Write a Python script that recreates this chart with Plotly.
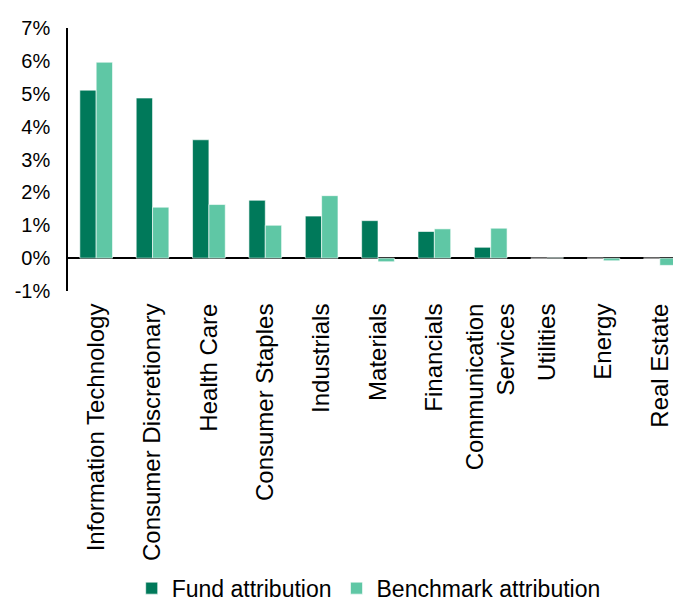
import plotly.graph_objects as go

categories = ["Information Technology", "Consumer Discretionary", "Health Care",
              "Consumer Staples", "Industrials", "Materials", "Financials",
              "Communication<br>Services", "Utilities", "Energy", "Real Estate"]
fund = [5.11, 4.87, 3.60, 1.76, 1.28, 1.14, 0.81, 0.33, 0.0, 0.0, 0.0]
benchmark = [5.96, 1.55, 1.63, 1.00, 1.90, -0.11, 0.89, 0.91, 0.01, -0.08, -0.22]
y_ticks = [-1, 0, 1, 2, 3, 4, 5, 6, 7]
y_tick_labels = [f"{v}%" for v in y_ticks]

fig = go.Figure()
fig.add_bar(x=categories, y=fund, name="Fund attribution",
            marker=dict(color="#00795A", line=dict(color="rgba(255,255,255,0.6)", width=1)))
fig.add_bar(x=categories, y=benchmark, name="Benchmark attribution",
            marker=dict(color="#5FC7A5", line=dict(color="rgba(255,255,255,0.6)", width=1)))

fig.update_layout(
    width=681, height=601,
    margin=dict(l=60, r=1, t=20, b=318, autoexpand=False),
    paper_bgcolor="white", plot_bgcolor="white",
    font=dict(family="Liberation Sans, Arial", size=20, color="#000000"),
    barmode="group", bargap=0.42, bargroupgap=0,
    showlegend=True,
    legend=dict(orientation="h", x=0.485, xanchor="center", y=-1.13, yanchor="middle",
                font=dict(size=23), itemwidth=30, traceorder="normal"),
)
fig.update_xaxes(tickangle=-90, showgrid=False, showline=False, automargin=False,
                 ticks="outside", ticklen=2, tickcolor="rgba(0,0,0,0)",
                 tickfont=dict(size=24))
fig.update_yaxes(range=[-1, 7], tickvals=y_ticks, ticktext=y_tick_labels,
                 showgrid=False, showline=True, linecolor="black", linewidth=1.5,
                 zeroline=True, zerolinecolor="black", zerolinewidth=1.5,
                 automargin=False,
                 ticks="outside", ticklen=12, tickcolor="rgba(0,0,0,0)",
                 tickfont=dict(size=20))

fig.write_html("out.html")
